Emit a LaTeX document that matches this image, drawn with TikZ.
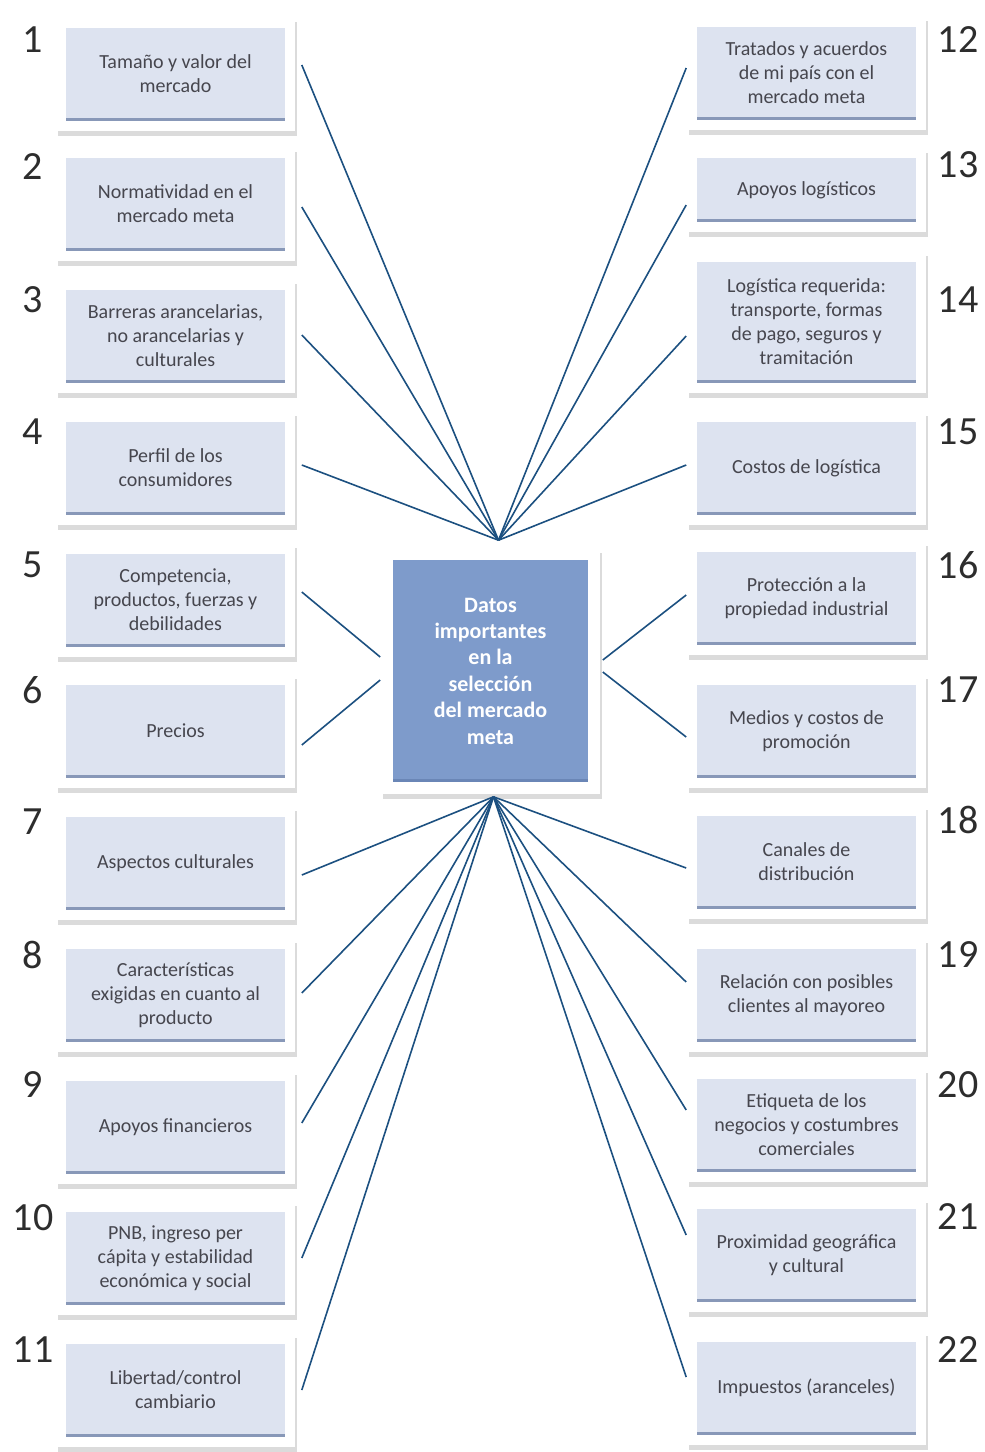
\documentclass[tikz,border=0pt]{standalone}
\usepackage{fontspec}
\setmainfont{Carlito}
\usetikzlibrary{calc,fit,backgrounds,shadows}

\definecolor{datofill}{RGB}{221,227,240}
\definecolor{datoedge}{RGB}{136,152,184}
\definecolor{datotext}{RGB}{70,70,78}
\definecolor{corefill}{RGB}{126,155,203}
\definecolor{coreedge}{RGB}{106,134,182}
\definecolor{linkblue}{RGB}{28,80,128}
\definecolor{numgray}{RGB}{45,45,45}

\begin{document}
\begin{tikzpicture}[x=0.5pt, y=-0.5pt,
    dato/.style={fill=datofill, minimum width=109.5pt, minimum height=46.5pt,
                 align=center, inner sep=2pt, text=datotext,
                 font=\fontsize{10}{12}\selectfont,
                 path picture={\fill[datoedge] (path picture bounding box.south west)
                   rectangle ([yshift=1.3pt]path picture bounding box.south east);}},
    tall/.style={minimum height=60.5pt},
    short/.style={minimum height=32pt},
    core/.style={fill=corefill, minimum width=97.5pt, minimum height=111pt,
                 align=center, text=white, font=\bfseries\fontsize{11}{13.2}\selectfont,
                 path picture={\fill[coreedge] (path picture bounding box.south west)
                   rectangle ([yshift=1.3pt]path picture bounding box.south east);}},
    panel/.style={fill=white, inner sep=5pt,
                  drop shadow={shadow xshift=1pt, shadow yshift=-2.5pt, fill=black, opacity=0.14}},
    num/.style={font=\fontsize{20}{24}\selectfont, text=numgray, inner sep=0pt},
    link/.style={linkblue, line width=0.8pt},
  ]
  \useasboundingbox (0,0) rectangle (985,1452);

  % left column
  \node[dato] (d1)  at (175.5,74)   {Tamaño y valor del\\mercado};
  \node[dato] (d2)  at (175.5,204)  {Normatividad en el\\mercado meta};
  \node[dato] (d3)  at (175.5,336)  {Barreras arancelarias,\\no arancelarias y\\culturales};
  \node[dato] (d4)  at (175.5,468)  {Perfil de los\\consumidores};
  \node[dato] (d5)  at (175.5,600)  {Competencia,\\productos, fuerzas y\\debilidades};
  \node[dato] (d6)  at (175.5,731)  {Precios};
  \node[dato] (d7)  at (175.5,863)  {Aspectos culturales};
  \node[dato] (d8)  at (175.5,995)  {Características\\exigidas en cuanto al\\producto};
  \node[dato] (d9)  at (175.5,1127) {Apoyos financieros};
  \node[dato] (d10) at (175.5,1258) {PNB, ingreso per\\cápita y estabilidad\\económica y social};
  \node[dato] (d11) at (175.5,1390) {Libertad/control\\cambiario};

  % right column
  \node[dato]        (d12) at (806.5,73)   {Tratados y acuerdos\\de mi país con el\\mercado meta};
  \node[dato, short] (d13) at (806.5,190)  {Apoyos logísticos};
  \node[dato, tall]  (d14) at (806.5,322)  {Logística requerida:\\transporte, formas\\de pago, seguros y\\tramitación};
  \node[dato]        (d15) at (806.5,468)  {Costos de logística};
  \node[dato]        (d16) at (806.5,598)  {Protección a la\\propiedad industrial};
  \node[dato]        (d17) at (806.5,731)  {Medios y costos de\\promoción};
  \node[dato]        (d18) at (806.5,862)  {Canales de\\distribución};
  \node[dato]        (d19) at (806.5,995)  {Relación con posibles\\clientes al mayoreo};
  \node[dato]        (d20) at (806.5,1125) {Etiqueta de los\\negocios y costumbres\\comerciales};
  \node[dato]        (d21) at (806.5,1255) {Proximidad geográfica\\y cultural};
  \node[dato]        (d22) at (806.5,1388) {Impuestos (aranceles)};

  % centre
  \node[core] (mid) at (490.5,671) {Datos\\importantes\\en la\\selección\\del mercado\\meta};

  \begin{scope}[on background layer]
    \foreach \n in {1,...,22}
      \node[panel, fit=(d\n)] (p\n) {};
    \node[panel, inner sep=6pt, fit=(mid)] (pmid) {};
  \end{scope}

  % numbers
  \foreach \n/\y in {1/40, 2/167, 3/300, 4/432, 5/565, 6/690, 7/822, 8/955, 9/1085, 10/1218, 11/1350}
    \node[num] (n\n) at (33,\y) {\n};
  \foreach \n/\y in {12/40, 13/165, 14/300, 15/432, 16/565, 17/690, 18/820, 19/955, 20/1085, 21/1217, 22/1350}
    \node[num] (n\n) at (958,\y) {\n};

  % hubs
  \coordinate (hubN) at ($(pmid.north)+(8,-7)$);
  \coordinate (hubS) at ($(pmid.south)+(3,2)$);
  \coordinate (hubW1) at ($(pmid.west)+(0,-14)$);
  \coordinate (hubW2) at ($(pmid.west)+(0,9)$);
  \coordinate (hubE1) at ($(pmid.east)+(2,-11)$);
  \coordinate (hubE2) at ($(pmid.east)+(2,1)$);

  \foreach \n/\dy/\tgt in {1/-9/hubN, 2/3/hubN, 3/-1/hubN, 4/-3/hubN, 5/-8/hubW1, 6/14/hubW2,
                            7/12/hubS, 8/-2/hubS, 9/-4/hubS, 10/0/hubS, 11/0/hubS}
    \draw[link] ($(p\n.east)+(6,\dy)$) -- (\tgt);
  \foreach \n/\dy/\tgt in {12/-5/hubN, 13/15/hubN, 14/14/hubN, 15/-3/hubN, 16/-3/hubE1, 17/6/hubE2,
                            18/6/hubS, 19/-13/hubS, 20/-15/hubS, 21/-20/hubS, 22/-11/hubS}
    \draw[link] ($(p\n.west)+(0,\dy)$) -- (\tgt);
\end{tikzpicture}
\end{document}
